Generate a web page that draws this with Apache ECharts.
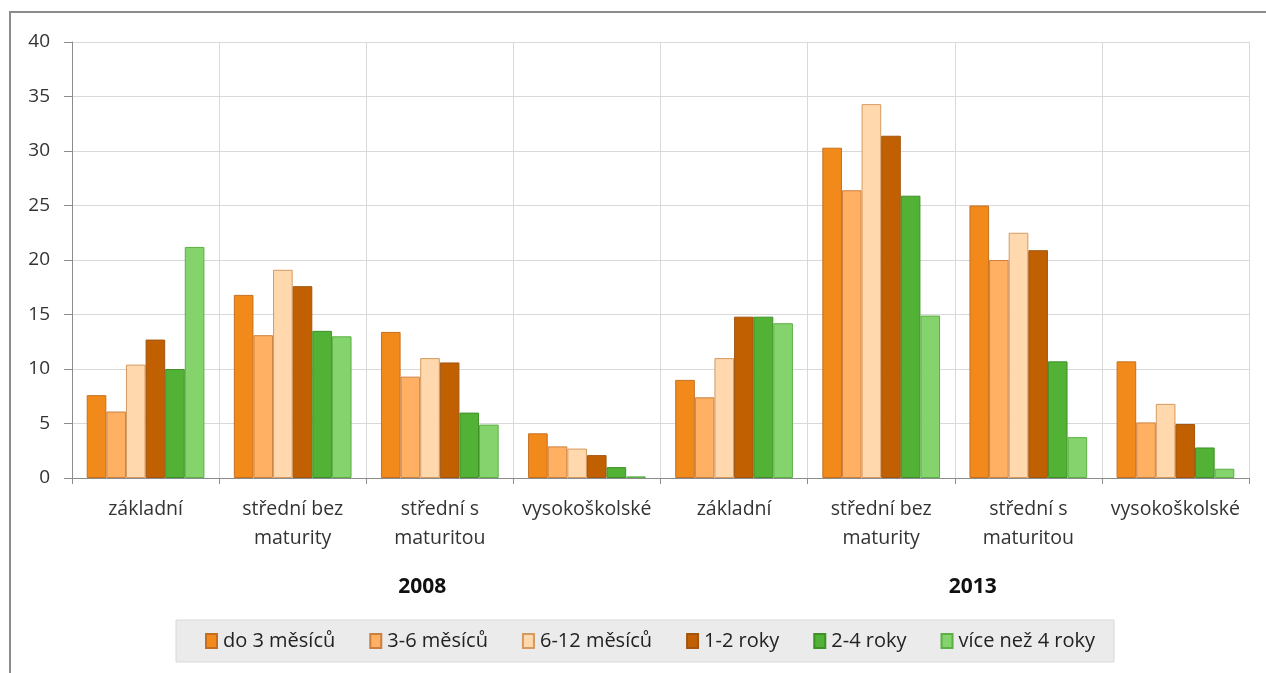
<!DOCTYPE html>
<html>
<head>
<meta charset="utf-8">
<script src="https://cdn.jsdelivr.net/npm/echarts@6/dist/echarts.min.js"></script>
<style>
html,body{margin:0;padding:0;background:#fff;}
#chart{width:1266px;height:673px;}
</style>
</head>
<body>
<div id="chart"></div>
<script>
const categories = ['základní','střední bez\nmaturity','střední s\nmaturitou','vysokoškolské','základní','střední bez\nmaturity','střední s\nmaturitou','vysokoškolské'];
const years = ['2008','2013'];
const seriesNames = ['do 3 měsíců','3-6 měsíců','6-12 měsíců','1-2 roky','2-4 roky','více než 4 roky'];
const do3 = [7.6, 16.8, 13.4, 4.1, 9.0, 30.3, 25.0, 10.7];
const m3_6 = [6.1, 13.1, 9.3, 2.9, 7.4, 26.4, 20.0, 5.1];
const m6_12 = [10.4, 19.1, 11.0, 2.7, 11.0, 34.3, 22.5, 6.8];
const r1_2 = [12.7, 17.6, 10.6, 2.1, 14.8, 31.4, 20.9, 4.95];
const r2_4 = [10.0, 13.5, 6.0, 1.0, 14.8, 25.9, 10.7, 2.8];
const r4plus = [21.2, 13.0, 4.9, 0.15, 14.2, 14.9, 3.75, 0.85];
const yTicks = [0, 5, 10, 15, 20, 25, 30, 35, 40];

const values = [do3, m3_6, m6_12, r1_2, r2_4, r4plus];
const fills = ['#F28A1B','#FFB062','#FFD8AE','#C06000','#52B236','#85D36D'];
const borders = ['#C46F1F','#CC8040','#D49A60','#A35510','#3E9027','#5BAF45'];
const FONT = '"Open Sans", "Noto Sans", sans-serif';

const chart = echarts.init(document.getElementById('chart'));
chart.setOption({
  animation: false,
  backgroundColor: '#fff',
  textStyle: { fontFamily: FONT },
  graphic: [{
    type: 'rect', z: -10, silent: true,
    shape: { x: 10, y: 12, width: 1300, height: 700 },
    style: { fill: 'none', stroke: '#8C8C8C', lineWidth: 2 }
  }],
  grid: { left: 72, right: 17, top: 42, bottom: 195, containLabel: false },
  legend: {
    data: seriesNames,
    left: 176, top: 620,
    backgroundColor: '#EBEBEB',
    borderColor: '#D9D9D9', borderWidth: 1,
    padding: [11, 19, 11, 29],
    itemWidth: 11, itemHeight: 14, itemGap: 34,
    icon: 'rect',
    textStyle: { fontSize: 20, color: '#222', fontFamily: FONT, padding: [0,0,0,1] }
  },
  xAxis: [{
    type: 'category', data: categories,
    axisLine: { show: true, lineStyle: { color: '#8C8C8C', width: 1 } },
    axisTick: { show: true, length: 6, lineStyle: { color: '#8C8C8C' } },
    splitLine: { show: true, lineStyle: { color: '#D9D9D9', width: 1 } },
    axisLabel: { interval: 0, fontSize: 19.5, color: '#333', lineHeight: 29, margin: 17, fontFamily: FONT }
  }, {
    type: 'category', data: years, position: 'bottom', offset: 93,
    axisLine: { show: false }, axisTick: { show: false }, splitLine: { show: false },
    axisLabel: {
      margin: 6,
      formatter: v => v === years[0] ? '{a|' + v + '}' : '{b|' + v + '}',
      rich: {
        a: { fontSize: 21, fontWeight: 'bold', color: '#111', fontFamily: FONT, padding: [0, 0, 0, 112] },
        b: { fontSize: 21, fontWeight: 'bold', color: '#111', fontFamily: FONT, padding: [0, 0, 0, 36] }
      }
    }
  }],
  yAxis: {
    type: 'value', min: 0, max: 40, interval: 5,
    axisLine: { show: true, lineStyle: { color: '#8C8C8C' } },
    axisTick: { show: true, length: 8, lineStyle: { color: '#8C8C8C' } },
    splitLine: { show: true, lineStyle: { color: '#D9D9D9' } },
    axisLabel: { fontSize: 19, color: '#333', margin: 22, fontFamily: FONT,
      formatter: v => yTicks.includes(v) ? String(v) : '' }
  },
  series: seriesNames.map((n, i) => ({
    name: n, type: 'bar', xAxisIndex: 0,
    data: values[i],
    barGap: '0%', barCategoryGap: '20%',
    itemStyle: { color: fills[i], borderColor: borders[i], borderWidth: 1 }
  }))
});
</script>
</body>
</html>
